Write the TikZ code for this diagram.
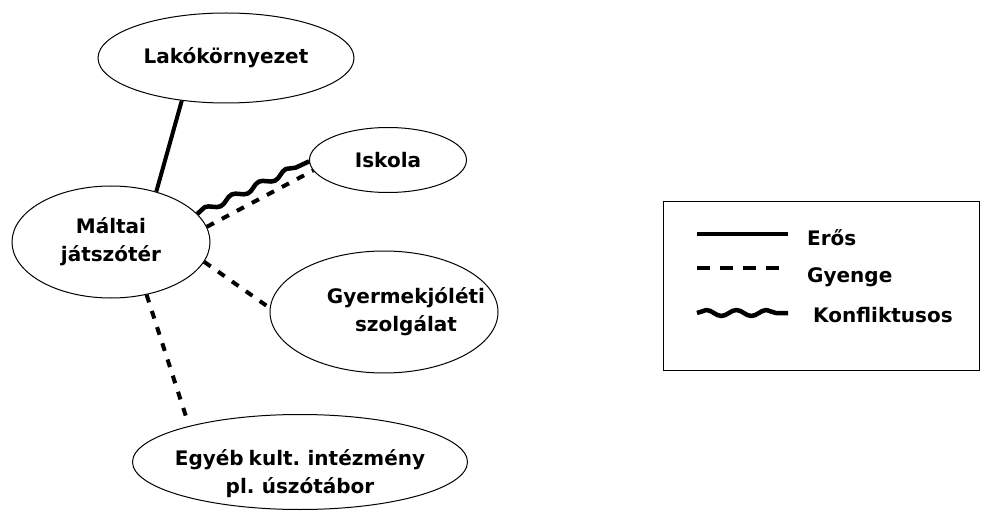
\documentclass[tikz,border=0pt]{standalone}
\usepackage{fontspec}
\setmainfont{DejaVu Sans}
\usetikzlibrary{positioning, shapes.geometric, decorations.pathmorphing}
\newcommand{\korbetu}{\fontsize{20}{28}\selectfont\bfseries\spaceskip=5pt\relax}

\begin{document}
\begin{tikzpicture}[x=1pt,y=-1pt]
	\tikzstyle{kor}=[ellipse,draw=black,line width=1pt,inner sep=0pt,align=center,font=\korbetu]
	\tikzstyle{felirat}=[anchor=west,inner sep=0pt,font=\fontsize{20}{26}\selectfont\bfseries]
	\tikzstyle{eros}=[line width=4pt]
	\tikzstyle{gyenge}=[line width=4pt,dash pattern=on 8pt off 9pt]
	\tikzstyle{konflikt}=[line width=4.5pt,line join=round,decorate,decoration={snake,amplitude=3pt,segment length=30pt}]
	\useasboundingbox (0,0) rectangle (983,513);
	\node[kor,minimum width=256pt,minimum height=90pt](lako) at (226,58){Lakókörnyezet};
	\node[kor,minimum width=198pt,minimum height=112pt](malta) at (111,242){Máltai\\játszótér};
	\node[kor,minimum width=157pt,minimum height=65pt](iskola) at (388,160){Iskola};
	\node[kor,minimum width=228pt,minimum height=122pt](gyermek) at (384,312){};
	\node[kor,draw=none,xshift=22pt](gyermekszov) at (gyermek){Gyermekjóléti\\szolgálat};
	\node[kor,minimum width=335pt,minimum height=95pt](egyeb) at (300,462){};
	\node[kor,draw=none,yshift=-12pt](egyebszov) at (egyeb){Egyéb kult. intézmény\\pl. úszótábor};
	\path[-]
		(malta.48) edge[eros] (lako.224)
		(malta.18) edge[konflikt] (iskola.181)
		(malta.9) edge[gyenge] (iskola.188)
		(malta.348) edge[gyenge] (gyermek.178)
		(malta.304) edge[gyenge,shorten >=6pt] (egyeb.162);
	% jelmagyarazat
	\node[draw=black,line width=1pt,minimum width=316pt,minimum height=168pt,inner sep=0pt](jelek) at (821,286){};
	\coordinate(e1) at (697,234);
	\coordinate(e2) at (788,234);
	\coordinate(g1) at (697,268);
	\coordinate(g2) at (788,268);
	\coordinate(k1) at (697,313);
	\coordinate(k2) at (788,313);
	\draw[eros] (e1) -- (e2);
	\draw[gyenge,dash pattern=on 13pt off 10pt] (g1) -- (g2);
	\draw[konflikt] (k1) -- (k2);
	\node[felirat](eros) at (807,238){Erős};
	\node[felirat](gyenge) at (807,277){Gyenge};
	\node[felirat](konfl) at (813,315){Konfliktusos};
\end{tikzpicture}
\end{document}
